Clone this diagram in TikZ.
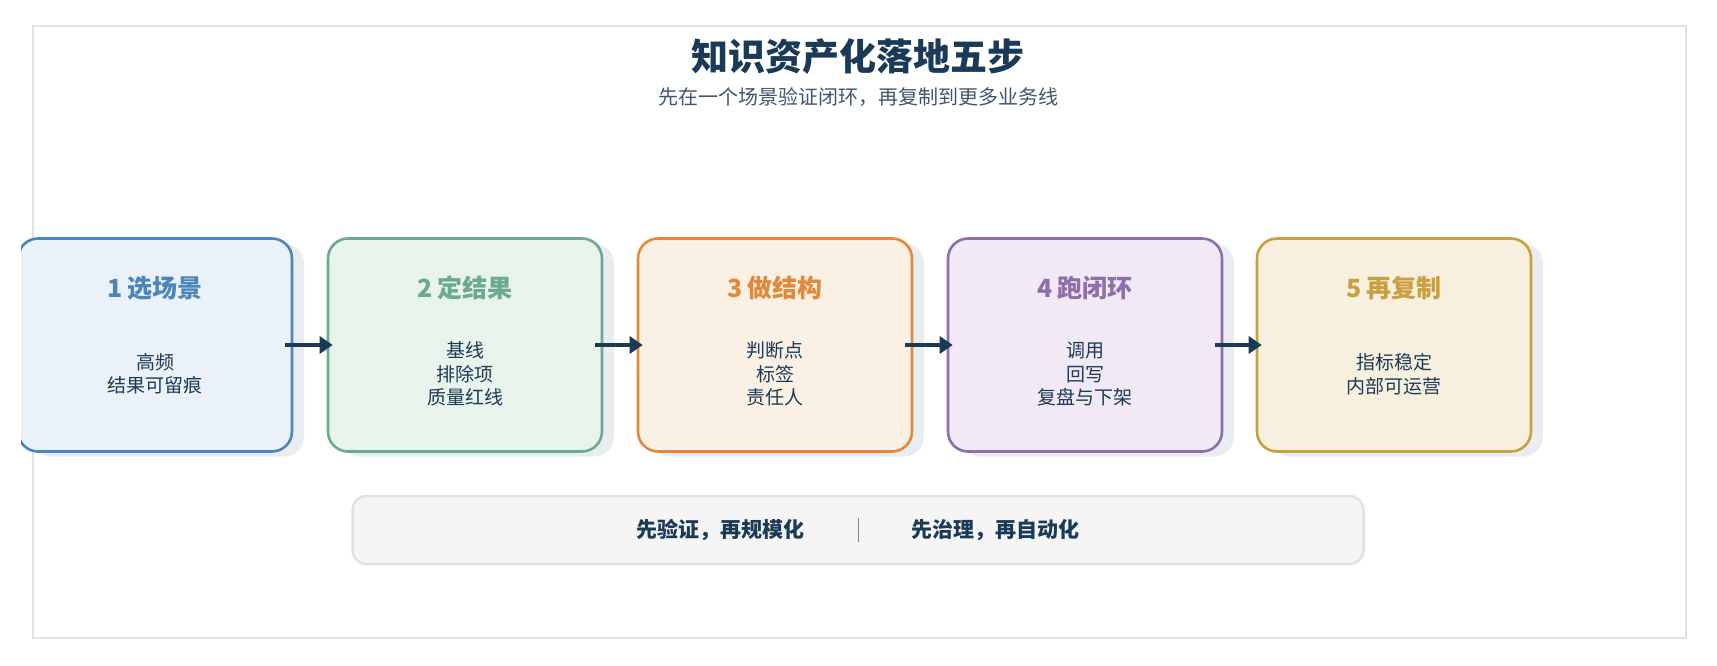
\documentclass[tikz,border=0pt]{standalone}
\usepackage{fontspec}
\setmainfont{Noto Sans CJK SC}
\newfontfamily\cjkb{Noto Sans CJK SC Bold}
\usetikzlibrary{arrows.meta}
\definecolor{dk}{HTML}{1B3A57}
\definecolor{bdr}{HTML}{DDE3EA}
\definecolor{shd}{HTML}{E9EDF2}
\definecolor{cA}{HTML}{4A86B8}\definecolor{fA}{HTML}{EAF1F8}
\definecolor{cB}{HTML}{6BAA8A}\definecolor{fB}{HTML}{E8F3EC}
\definecolor{cC}{HTML}{E08A3C}\definecolor{fC}{HTML}{FBF0E4}
\definecolor{cD}{HTML}{8E6FAA}\definecolor{fD}{HTML}{F1EAF6}
\definecolor{cE}{HTML}{C9A040}\definecolor{fE}{HTML}{F7F0DE}
\tikzset{
 box/.style={draw=#1,line width=2.6pt,rounded corners=20pt,minimum width=274pt,minimum height=213pt,inner sep=0pt},
 shadow/.style={fill=shd,rounded corners=20pt,minimum width=274pt,minimum height=213pt,draw=none},
 ttl/.style={font=\fontsize{25}{28}\selectfont\bfseries,text=#1},
 body/.style={font=\fontsize{19}{23.5}\selectfont,text=dk,align=center},
 arr/.style={draw=dk,line width=3.5pt,-{Triangle[length=13pt,width=17pt]}}
}
\begin{document}
\begin{tikzpicture}[x=1pt,y=-1pt]
\useasboundingbox (0,0) rectangle (1717,666);
\fill[white] (0,0) rectangle (1717,666);
\draw[bdr,line width=2pt] (33,26) rectangle (1686,638);
\node[font=\fontsize{37}{40}\selectfont\bfseries,text=dk] (t) at (858,57) {知识资产化落地五步};
\node[font=\fontsize{20}{24}\selectfont,text=dk!60!gray] (st) at (858,97) {先在一个场景验证闭环，再复制到更多业务线};
\begin{scope}
\clip (21,0) rectangle (1717,666);
\foreach \x/\c/\f/\n in {155/cA/fA/b1,465/cB/fB/b2,775/cC/fC/b3,1085/cD/fD/b4,1394/cE/fE/b5}{
 \node[shadow] at (\x+12,350) {};
 \node[box=\c,fill=\f] (\n) at (\x,345) {};
}
\end{scope}
\node[ttl=cA] (h1) at (155,288) {1 选场景};
\node[ttl=cB] (h2) at (465,288) {2 定结果};
\node[ttl=cC] (h3) at (775,288) {3 做结构};
\node[ttl=cD] (h4) at (1085,288) {4 跑闭环};
\node[ttl=cE] (h5) at (1394,288) {5 再复制};
\node[body] (d1) at (155,374) {高频\\结果可留痕};
\node[body] (d2) at (465,374) {基线\\排除项\\质量红线};
\node[body] (d3) at (775,374) {判断点\\标签\\责任人};
\node[body] (d4) at (1085,374) {调用\\回写\\复盘与下架};
\node[body] (d5) at (1394,374) {指标稳定\\内部可运营};
\foreach \a/\b in {b1/b2,b2/b3,b3/b4,b4/b5}{
 \draw[arr] ([xshift=-8pt]\a.east) -- ([xshift=6pt]\b.west);
}
\node[draw=bdr,line width=2.5pt,fill=gray!8!white,rounded corners=14pt,minimum width=1011pt,minimum height=68pt] (bar) at (858,530) {};
\node[font=\fontsize{21}{24}\selectfont\bfseries,text=dk] (l) at (720,530) {先验证，再规模化};
\node[font=\fontsize{21}{24}\selectfont\bfseries,text=dk] (r) at (995,530) {先治理，再自动化};
\draw[dk!60,line width=1pt] (858,518) -- (858,542);
\end{tikzpicture}
\end{document}
